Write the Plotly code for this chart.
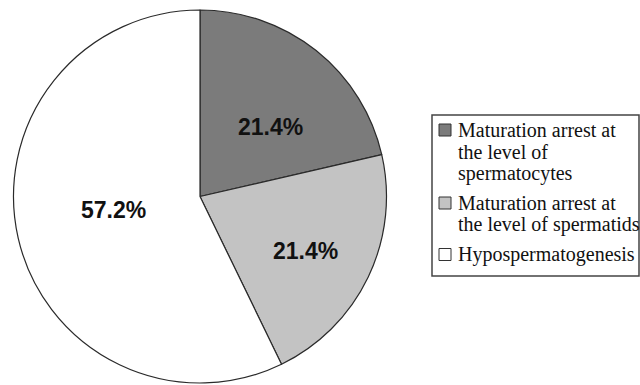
import math
import plotly.graph_objects as go

# Histological findings and their share of cases (%)
category_lines = [
    ["Maturation arrest at", "the level of", "spermatocytes"],
    ["Maturation arrest at", "the level of spermatids"],
    ["Hypospermatogenesis"],
]
shares = [21.4, 21.4, 57.2]
slice_colors = ["#7b7b7b", "#c3c3c3", "#ffffff"]

W, H = 640, 385

# pie area in pixels (left, top, right, bottom)
PIE_L, PIE_T, PIE_R, PIE_B = 12, 10, 388, 383

fig = go.Figure(
    go.Pie(
        labels=[" ".join(lines) for lines in category_lines],
        values=shares,
        sort=False,
        direction="clockwise",
        rotation=0,
        marker=dict(colors=slice_colors, line=dict(color="#2a2a2a", width=1.2)),
        textinfo="none",
        hoverinfo="label+percent",
        showlegend=False,
        domain=dict(x=[PIE_L / W, PIE_R / W], y=[1 - PIE_B / H, 1 - PIE_T / H]),
    )
)

# Percentage labels placed inside each slice, along (a nudged) bisector
cx = (PIE_L + PIE_R) / 2
cy = (PIE_T + PIE_B) / 2
radius = min(PIE_R - PIE_L, PIE_B - PIE_T) / 2
label_radius = [0.53, 0.636, 0.468]
label_turn = [-6.9, -1.9, -3.8]

total = sum(shares)
start = 0.0
annotations = []
for i, v in enumerate(shares):
    mid_frac = (start + v / 2) / total
    start += v
    ang = math.radians(90 - 360 * mid_frac + label_turn[i])
    px = cx + label_radius[i] * radius * math.cos(ang)
    py = cy - label_radius[i] * radius * math.sin(ang)
    annotations.append(
        dict(
            x=px / W, y=1 - py / H, xref="paper", yref="paper",
            text=f"<b>{v:.1f}%</b>", showarrow=False,
            xanchor="center", yanchor="middle",
            font=dict(family="Liberation Sans, Arial, sans-serif", size=23, color="#111111"),
        )
    )

# Legend box drawn by hand for tight serif line spacing
LEG_L, LEG_T, LEG_R, LEG_B = 432, 115, 639, 276
shapes = [
    dict(type="rect", xref="paper", yref="paper",
         x0=LEG_L / W, x1=LEG_R / W, y0=1 - LEG_B / H, y1=1 - LEG_T / H,
         line=dict(color="#444444", width=1.5), fillcolor="rgba(0,0,0,0)", layer="above")
]
line_step = 21.5
entry_gap = 8.5
y_line = 130.0
for i, lines in enumerate(category_lines):
    # colour square next to the first line of each entry
    shapes.append(
        dict(type="rect", xref="paper", yref="paper",
             x0=439 / W, x1=451 / W,
             y0=1 - (y_line + 6) / H, y1=1 - (y_line - 6) / H,
             line=dict(color="#333333", width=1), fillcolor=slice_colors[i])
    )
    for ln in lines:
        annotations.append(
            dict(
                x=456 / W, y=1 - y_line / H, xref="paper", yref="paper",
                text=ln, showarrow=False, xanchor="left", yanchor="middle",
                font=dict(family="Liberation Serif, Times New Roman, serif", size=20, color="#111111"),
            )
        )
        y_line += line_step
    y_line += entry_gap

fig.update_layout(
    width=W,
    height=H,
    margin=dict(l=0, r=0, t=0, b=0),
    paper_bgcolor="white",
    plot_bgcolor="white",
    showlegend=False,
    annotations=annotations,
    shapes=shapes,
)

fig.write_html("out.html")
